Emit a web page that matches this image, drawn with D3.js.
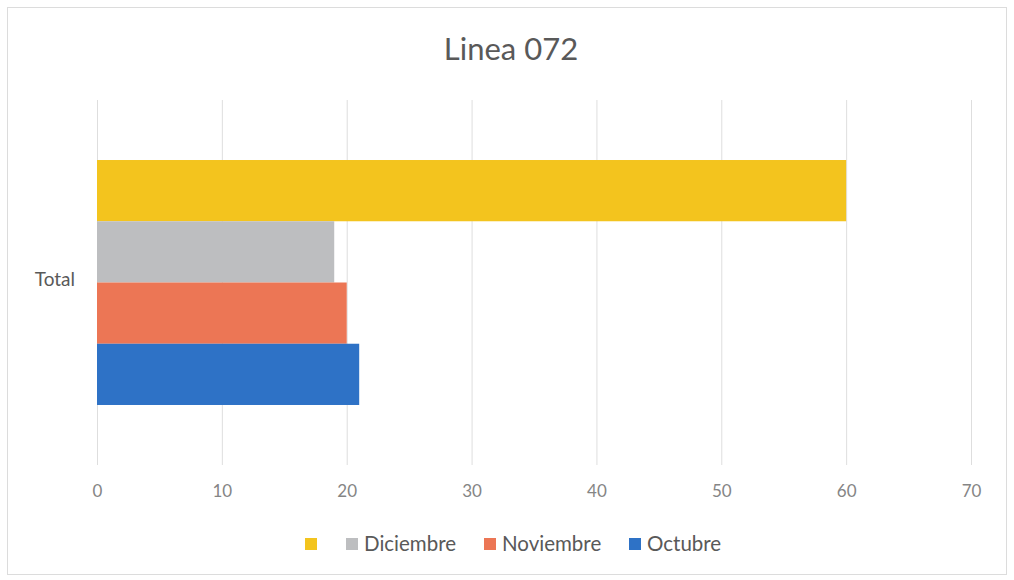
<!DOCTYPE html>
<html>
<head>
<meta charset="utf-8">
<script src="https://cdn.jsdelivr.net/npm/d3@7"></script>
<style>
  body { margin: 0; background: #fff; }
  text { font-family: Lato, "Open Sans", sans-serif; }
</style>
</head>
<body>
<div id="chart"></div>
<script>
// chart data
var categories = ["Total"];
var seriesNames = ["", "Diciembre", "Noviembre", "Octubre"];
var seriesValues = [60, 19, 20, 21];
var seriesColors = ["#F3C41E", "#BDBEC0", "#EC7655", "#2E72C6"];
var xTicks = [0, 10, 20, 30, 40, 50, 60, 70];

var W = 1014, H = 580;
var margin = { top: 100, right: 43, bottom: 115, left: 97 },
  width = W - margin.left - margin.right,
  height = H - margin.top - margin.bottom;

var svg = d3.select("#chart")
  .append("svg")
  .attr("width", W)
  .attr("height", H);

// chart border
svg.append("rect")
  .attr("x", 7.5).attr("y", 7.5)
  .attr("width", W - 15).attr("height", H - 13)
  .attr("fill", "#fff")
  .attr("stroke", "#dcdcdc");

svg.append("text")
  .attr("x", 511)
  .attr("y", 60)
  .attr("text-anchor", "middle")
  .style("font-size", "31px")
  .style("fill", "#595959")
  .text("Linea 072");

var g = svg.append("g")
  .attr("transform", "translate(" + margin.left + "," + margin.top + ")");

var x = d3.scaleLinear().domain([0, 70]).range([0, width]);
var y0 = d3.scaleBand().domain(categories).range([0, height]).paddingInner(0).paddingOuter(0.245);
var y1 = d3.scaleBand().domain(seriesNames).range([0, y0.bandwidth()]).padding(0);

// gridlines
g.append("g")
  .selectAll("line")
  .data(xTicks)
  .enter()
  .append("line")
  .attr("x1", function (d) { return x(d) + 0.5; })
  .attr("x2", function (d) { return x(d) + 0.5; })
  .attr("y1", 0)
  .attr("y2", height)
  .attr("stroke", "#dedede");

// x axis labels
var xAxis = d3.axisBottom(x).tickValues(xTicks).tickSize(0).tickPadding(20);
var ax = g.append("g")
  .attr("transform", "translate(0," + height + ")")
  .call(xAxis);
ax.select(".domain").remove();
ax.selectAll("text")
  .style("font-size", "17px")
  .style("fill", "#858585")
  .style("font-family", "Lato, sans-serif");

// y axis label
var yAxis = d3.axisLeft(y0).tickSize(0).tickPadding(22);
var ay = g.append("g").call(yAxis);
ay.select(".domain").remove();
ay.selectAll("text")
  .attr("dy", "0.2em")
  .style("font-size", "19px")
  .style("fill", "#595959")
  .style("font-family", "Lato, sans-serif");

// bars
var rows = [];
categories.forEach(function (c) {
  seriesNames.forEach(function (s, i) {
    rows.push({ cat: c, name: s, value: seriesValues[i], color: seriesColors[i] });
  });
});

g.append("g")
  .selectAll("rect")
  .data(rows)
  .enter()
  .append("rect")
  .attr("x", x(0))
  .attr("y", function (d) { return y0(d.cat) + y1(d.name); })
  .attr("width", function (d) { return x(d.value) - x(0); })
  .attr("height", y1.bandwidth())
  .attr("fill", function (d) { return d.color; });

// legend
var legendX = [305, 346, 484, 629];
var legend = svg.append("g");
seriesNames.forEach(function (s, i) {
  var it = legend.append("g").attr("transform", "translate(" + legendX[i] + ",538)");
  it.append("rect")
    .attr("width", 12).attr("height", 12)
    .attr("fill", seriesColors[i]);
  it.append("text")
    .attr("x", 18)
    .attr("y", 13)
    .style("font-size", "20.5px")
    .style("fill", "#595959")
    .text(s);
});
</script>
</body>
</html>
